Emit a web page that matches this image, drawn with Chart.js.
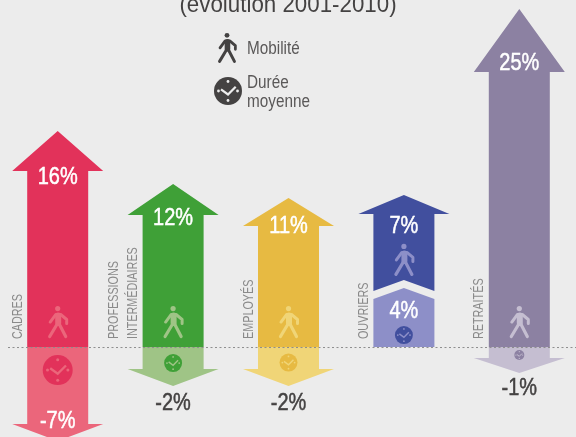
<!DOCTYPE html>
<html>
<head>
<meta charset="utf-8">
<script src="https://cdn.jsdelivr.net/npm/chart.js@4"></script>
<style>
    html, body { margin: 0; padding: 0; background: #ECECEC; overflow: hidden; }
    canvas { display: block; }
</style>
</head>
<body>
<canvas id="chart" width="577" height="437"></canvas>
<script>
// Categories, each one can take several lines on its rotated label
const categories = [['CADRES'], ['PROFESSIONS', 'INTERMÉDIAIRES'], ['EMPLOYÉS'], ['OUVRIERS'], ['RETRAITÉS']];

// Evolution 2001-2010, in %
const mobilite = [16, 12, 11, 7, 25];
const dureeMoyenne = [-7, -2, -2, 4, -1];

// The ouvriers mobility arrow sits on top of its duration arrow
const mobiliteStart = [0, 0, 0, 5.1, 0];

const strongColors = ['#E2325A', '#3FA037', '#E7BA42', '#414F9E', '#8C81A2'];
const lightColors = ['#EB667B', '#9FC486', '#F0D577', '#8D8FC8', '#C5BED1'];

const backgroundColor = '#ECECEC';
const darkText = '#444242';
const fontFamily = '"Liberation Sans", sans-serif';

// Arrow drawing settings, per category (pixels)
const arrowStyle = {
    headHalfWidth: 45.5,
    mobilite: {
        head: [40, 31, 28, 19, 63],
        labelOffset: [6, 3, 0, 13, -9],
        walkerOffset: [-41, -41, -41, -47, -41]
    },
    duree: {
        head: [17, 17, 17, 11, 15],
        labelOffset: [-3, 34, 34, 8, 30],
        labelColor: ['#FFFFFF', darkText, darkText, '#FFFFFF', darkText],
        clockOffset: [23, 16, 15.5, -12, 8],
        clockRadius: [15, 9, 9, 9, 5]
    }
};

// There is no condensed font installed, so the text gets squeezed sideways
function narrowText(ctx, text, x, y, squeeze, weight) {
    ctx.save();
    ctx.translate(x, y);
    ctx.scale(squeeze, 1);
    ctx.fillText(text, 0, 0);
    if (weight) {
        ctx.strokeStyle = ctx.fillStyle;
        ctx.lineWidth = weight;
        ctx.strokeText(text, 0, 0);
    }
    ctx.restore();
}

function drawWalker(ctx, x, y, color, scale) {
    ctx.save();
    ctx.translate(x, y);
    ctx.scale(scale, scale);
    ctx.strokeStyle = color;
    ctx.fillStyle = color;
    ctx.lineCap = 'round';
    ctx.lineJoin = 'round';

    // Head
    ctx.beginPath();
    ctx.arc(0, 2.5, 2.6, 0, Math.PI * 2);
    ctx.fill();

    // Arms
    ctx.lineWidth = 3;
    ctx.beginPath();
    ctx.moveTo(-7.5, 16);
    ctx.lineTo(-2, 8.5);
    ctx.lineTo(3, 8.5);
    ctx.lineTo(9, 13.5);
    ctx.lineTo(9, 17.5);
    ctx.stroke();

    // Body
    ctx.lineWidth = 6;
    ctx.beginPath();
    ctx.moveTo(0.5, 9.5);
    ctx.lineTo(0.5, 17);
    ctx.stroke();

    // Legs
    ctx.lineWidth = 3.2;
    ctx.beginPath();
    ctx.moveTo(-8, 30.5);
    ctx.lineTo(-0.5, 18);
    ctx.moveTo(8, 30.5);
    ctx.lineTo(1.5, 18);
    ctx.stroke();
    ctx.restore();
}

function drawClock(ctx, x, y, r, color, markColor) {
    ctx.save();
    ctx.fillStyle = color;
    ctx.beginPath();
    ctx.arc(x, y, r, 0, Math.PI * 2);
    ctx.fill();

    ctx.fillStyle = markColor;
    [[0, -1], [1, 0], [0, 1], [-1, 0]].forEach(mark => {
        ctx.beginPath();
        ctx.arc(x + mark[0] * r * 0.68, y + mark[1] * r * 0.68, Math.max(0.6, r * 0.1), 0, Math.PI * 2);
        ctx.fill();
    });

    // Hands
    ctx.strokeStyle = markColor;
    ctx.lineWidth = Math.max(1, r * 0.16);
    ctx.beginPath();
    ctx.moveTo(x - r * 0.5, y - r * 0.12);
    ctx.lineTo(x, y + r * 0.25);
    ctx.lineTo(x + r * 0.55, y - r * 0.3);
    ctx.stroke();
    ctx.restore();
}

// Up or down arrow from a bar element, the bar value gives the end of the shaft
function drawArrow(ctx, bar, headHeight, headHalfWidth, notch, lift, color) {
    const halfWidth = bar.width / 2;
    const dir = bar.y < bar.base ? -1 : 1;
    const shoulder = bar.y - lift;

    ctx.fillStyle = color;
    ctx.beginPath();
    ctx.moveTo(bar.x - halfWidth, bar.base);
    if (notch) {
        ctx.lineTo(bar.x, bar.base - notch);
        ctx.lineTo(bar.x + halfWidth, bar.base);
    } else {
        ctx.lineTo(bar.x + halfWidth, bar.base);
    }
    ctx.lineTo(bar.x + halfWidth, shoulder);
    ctx.lineTo(bar.x + headHalfWidth, shoulder);
    ctx.lineTo(bar.x, shoulder + dir * headHeight);
    ctx.lineTo(bar.x - headHalfWidth, shoulder);
    ctx.lineTo(bar.x - halfWidth, shoulder);
    ctx.closePath();
    ctx.fill();
}

const arrowPlugin = {
    id: 'arrows',

    // The bars are drawn as arrows, so the default bar drawing is skipped
    beforeDatasetDraw(chart, args) {
        const ctx = chart.ctx;
        const isMobilite = args.index === 0;
        ctx.save();
        args.meta.data.forEach((bar, i) => {
            if (isMobilite) {
                drawArrow(ctx, bar, arrowStyle.mobilite.head[i], arrowStyle.headHalfWidth,
                    mobiliteStart[i] ? 11 : 0, 0, strongColors[i]);
            } else if (dureeMoyenne[i] > 0) {
                // Positive duration has a head as wide as its shaft
                drawArrow(ctx, bar, arrowStyle.duree.head[i], bar.width / 2, 0, 4, lightColors[i]);
            } else {
                drawArrow(ctx, bar, arrowStyle.duree.head[i], arrowStyle.headHalfWidth, 0, 0, lightColors[i]);
            }
        });
        ctx.restore();
        return false;
    },

    afterDraw(chart) {
        const ctx = chart.ctx;
        const yZero = chart.scales.y.getPixelForValue(0);
        const mobiliteBars = chart.getDatasetMeta(0).data;
        const dureeBars = chart.getDatasetMeta(1).data;

        ctx.save();

        // Dotted base line
        ctx.strokeStyle = '#8E8E8E';
        ctx.lineWidth = 1;
        ctx.setLineDash([2, 2.5]);
        ctx.beginPath();
        ctx.moveTo(8, yZero + 0.5);
        ctx.lineTo(chart.width, yZero + 0.5);
        ctx.stroke();
        ctx.setLineDash([]);

        ctx.textAlign = 'center';
        ctx.textBaseline = 'middle';
        categories.forEach((lines, i) => {
            const bar = mobiliteBars[i];
            const duree = dureeBars[i];

            drawWalker(ctx, bar.x, bar.base + arrowStyle.mobilite.walkerOffset[i], lightColors[i], 1);
            drawClock(ctx, bar.x, yZero + arrowStyle.duree.clockOffset[i], arrowStyle.duree.clockRadius[i],
                strongColors[i], lightColors[i]);

            // Percentages
            ctx.font = '23.5px ' + fontFamily;
            ctx.fillStyle = '#FFFFFF';
            narrowText(ctx, mobilite[i] + '%', bar.x, bar.y + arrowStyle.mobilite.labelOffset[i], 0.85, 0.5);
            ctx.fillStyle = arrowStyle.duree.labelColor[i];
            narrowText(ctx, dureeMoyenne[i] + '%', duree.x, duree.y + arrowStyle.duree.labelOffset[i], 0.85, 0.5);

            // Rotated category names on the left of the arrow
            ctx.save();
            ctx.translate(bar.x - 40, yZero - 8);
            ctx.rotate(-Math.PI / 2);
            ctx.textAlign = 'left';
            ctx.font = '15px ' + fontFamily;
            ctx.fillStyle = '#8A8A8A';
            lines.forEach((line, n) => {
                narrowText(ctx, line, 0, (n - lines.length + 1) * 19, 0.72);
            });
            ctx.restore();
        });

        // Title, the top of it is cut by the picture
        ctx.font = '24px ' + fontFamily;
        ctx.fillStyle = darkText;
        ctx.textBaseline = 'alphabetic';
        narrowText(ctx, '(évolution 2001-2010)', 288, 12, 0.93);

        // Legend
        ctx.textAlign = 'left';
        ctx.font = '18px ' + fontFamily;
        ctx.fillStyle = '#5A5858';
        narrowText(ctx, 'Mobilité', 247, 54, 0.85);
        narrowText(ctx, 'Durée', 247, 88, 0.85);
        narrowText(ctx, 'moyenne', 247, 107, 0.85);
        drawWalker(ctx, 227, 33, darkText, 0.93);
        drawClock(ctx, 228, 91, 14, darkText, backgroundColor);

        ctx.restore();
    }
};

new Chart(document.getElementById('chart'), {
    type: 'bar',
    data: {
        labels: categories.map(lines => lines.join(' ')),
        datasets: [{
            label: 'Mobilité',
            data: mobilite.map((value, i) => [mobiliteStart[i], mobiliteStart[i] + value]),
            backgroundColor: strongColors,
            barThickness: 61
        },
        {
            label: 'Durée moyenne',
            data: dureeMoyenne,
            backgroundColor: lightColors,
            barThickness: 61
        }]
    },
    options: {
        responsive: false,
        animation: false,
        layout: { padding: 0 },
        plugins: {
            legend: { display: false },
            tooltip: { enabled: false }
        },
        scales: {
            x: { display: false, stacked: true },
            // 11 pixels for one percent, the base line falls at 347 pixels
            y: { display: false, stacked: false, min: -8.18, max: 31.55 }
        }
    },
    plugins: [arrowPlugin]
});
</script>
</body>
</html>
